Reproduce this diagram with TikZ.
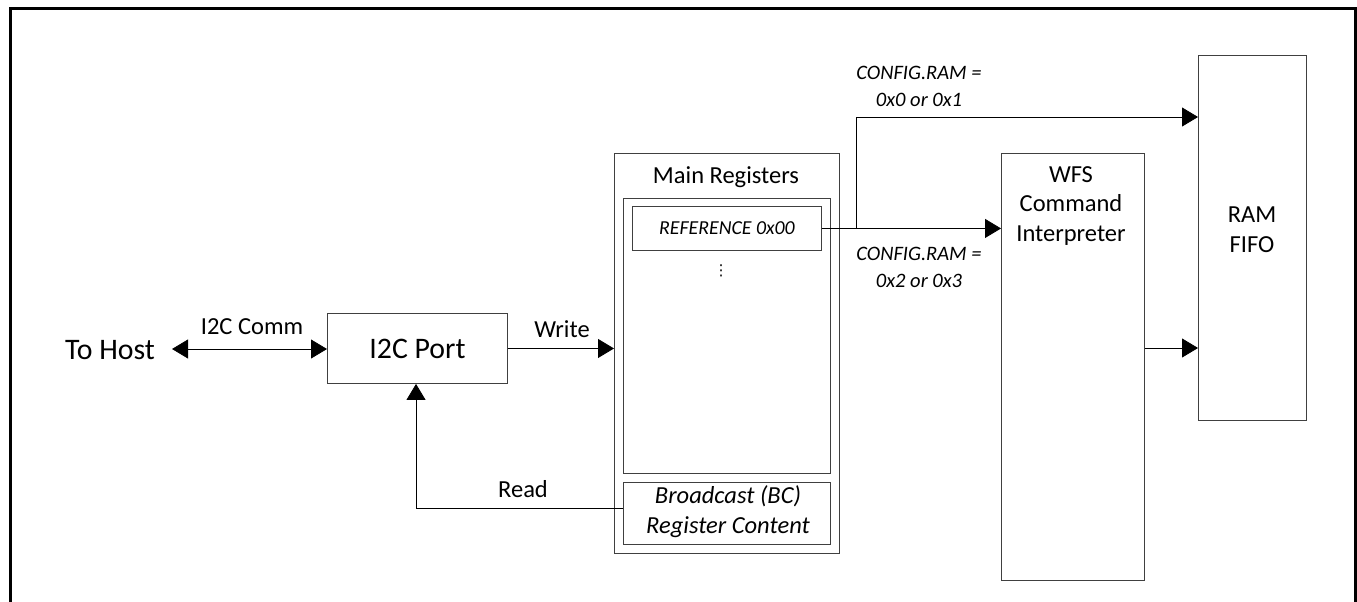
\documentclass[tikz,border=0pt]{standalone}
\usepackage{fontspec}
\setmainfont{Carlito}
\newfontfamily\symfont{DejaVu Sans}
\usetikzlibrary{arrows.meta}
\begin{document}
\begin{tikzpicture}[x=1pt,y=-1pt,
  box/.style={draw=black!75, line width=0.9pt, inner sep=0pt, anchor=north west},
  conn/.style={draw=black, line width=0.8pt, -{Triangle[length=16pt,width=19pt]}},
  lbl/.style={font=\fontsize{24.5}{29.5}\selectfont, align=center, inner sep=0pt},
  ilbl/.style={font=\fontsize{20.5}{27}\selectfont\itshape, align=center, inner sep=0pt},
  big/.style={font=\fontsize{29.8}{34}\selectfont, inner sep=0pt}]
\useasboundingbox (0,0) rectangle (1357,602);
\draw[line width=3pt] (10,620) -- (10,9) -- (1355,9) -- (1355,620);

% To Host and I2C Port
\node[big] (host) at (110,350) {To Host};
\node[box, minimum width=180pt, minimum height=70pt] (port) at (327,313) {};
\node[big] at (port.center) {I2C Port};
\coordinate (hostr) at (172,349);
\draw[line width=0.8pt, {Triangle[length=16pt,width=19pt]}-{Triangle[length=16pt,width=19pt]}] (hostr) -- (port.west |- hostr);
\node[lbl] at (252,327) {I2C Comm};

% Main registers
\node[box, minimum width=225pt, minimum height=400pt] (main) at (614,153) {};
\node[lbl] at (726,177) {Main Registers};
\node[box, minimum width=207pt, minimum height=275pt] (inner) at (623,198) {};
\node[box, minimum width=189pt, minimum height=44pt] (ref) at (632,206) {};
\node[font=\fontsize{19.8}{24}\selectfont\itshape, inner sep=0pt] at (ref.center) {REFERENCE 0x00};
\node[inner sep=0pt, font=\fontsize{15}{15}\selectfont\symfont] (dots) at (721,271) {⋮};
\node[box, minimum width=207pt, minimum height=62pt] (bc) at (623,482) {};
\node[lbl, font=\fontsize{24.5}{30}\selectfont\itshape] at (728,512) {Broadcast (BC)\\Register Content};

% Write / Read
\draw[conn] (port.east) -- (main.west |- port.east);
\node[lbl] at (562,329) {Write};
\draw[conn] (bc.west |- 0,508) -- (416,508) -- (port.south -| 416,0);
\node[lbl] at (523,489) {Read};

% WFS and RAM FIFO
\node[box, minimum width=143pt, minimum height=427pt] (wfs) at (1001,153) {};
\node[lbl] at (1071,206) {WFS\\Command\\Interpreter};
\node[box, minimum width=108pt, minimum height=365pt] (ram) at (1198,55) {};
\node[lbl, font=\fontsize{24.5}{30}\selectfont] at (1252,230) {RAM\\FIFO};

\coordinate (br) at (856,228);
\draw[conn] (ref.east) -- (wfs.west |- ref.east);
\draw[conn] (br) -- (856,117) -- (ram.west |- 0,117);
\draw[conn] (wfs.east |- 0,348) -- (ram.west |- 0,348);
\node[ilbl] at (919,86) {CONFIG.RAM =\\0x0 or 0x1};
\node[ilbl] at (919,267) {CONFIG.RAM =\\0x2 or 0x3};
\end{tikzpicture}
\end{document}
